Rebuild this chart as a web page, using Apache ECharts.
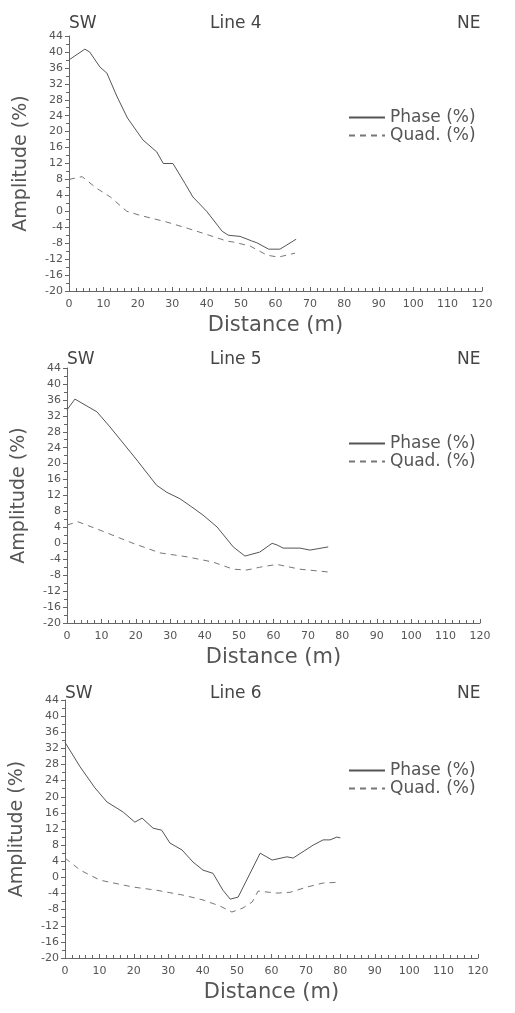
<!DOCTYPE html>
<html>
<head>
<meta charset="utf-8">
<title>Lines 4-6</title>
<script src="https://cdn.jsdelivr.net/npm/echarts@6/dist/echarts.min.js"></script>
<style>
  html, body { margin: 0; padding: 0; background: #fff; }
  #main { width: 515px; height: 1013px; }
</style>
</head>
<body>
<div id="main"></div>
<script>
// values (distance in m, amplitude in %)
var lineNames = ['Line 4', 'Line 5', 'Line 6'];
var yTicks = [-20, 44, 4];   // min, max, step
var xTicks = [0, 120, 10];

var l4PhaseDist = [0, 4.6, 6, 9, 11, 14, 17, 21.5, 25.5, 27.4, 30.2, 33.7, 36, 40, 44.5, 46.3, 49.7, 53, 54.6, 58, 61.3, 66];
var l4PhaseAmp  = [38, 40.7, 40, 36.2, 34.7, 28.7, 23.4, 17.9, 14.9, 12, 12, 7, 3.6, 0, -5, -6, -6.3, -7.4, -7.9, -9.5, -9.5, -7];
var l4QuadDist  = [0, 3.8, 8, 12, 16.8, 20.6, 28.4, 34.2, 40, 46, 47.7, 52.6, 57.5, 60.8, 65.7];
var l4QuadAmp   = [8, 8.7, 5.8, 3.6, 0, -1, -2.7, -4.2, -5.8, -7.5, -7.7, -8.7, -11, -11.5, -10.5];

var l5PhaseDist = [0, 2.3, 8.7, 12.5, 20.3, 26, 29, 32.8, 35.8, 39.5, 43.6, 48.3, 51.7, 56, 59.6, 61, 62.8, 67.7, 70.6, 75.9];
var l5PhaseAmp  = [33.5, 36.2, 33, 29.2, 20.9, 14.6, 12.8, 11.2, 9.4, 7.1, 4.1, -0.9, -3.2, -2.2, 0, -0.4, -1.2, -1.2, -1.7, -0.9];
var l5QuadDist  = [0, 3.2, 9.6, 19.2, 27, 34.9, 42.4, 48.3, 52.3, 56, 61, 67.7, 75.9];
var l5QuadAmp   = [4.6, 5.4, 3.3, 0, -2.4, -3.4, -4.7, -6.5, -6.7, -6, -5.3, -6.5, -7.2];

var l6PhaseDist = [0, 4.4, 8.7, 12.2, 16.9, 20.3, 22.4, 25.6, 28.1, 30.5, 34, 37.2, 40.1, 43, 45.9, 48, 50.3, 56.7, 60.2, 64.5, 66.3, 72.1, 75, 77, 79, 80];
var l6PhaseAmp  = [33.5, 27.4, 22.2, 18.7, 16.2, 13.7, 14.7, 12.2, 11.7, 8.5, 6.8, 3.8, 1.8, 1, -3.2, -5.4, -4.9, 6, 4.3, 5.1, 4.8, 8, 9.3, 9.3, 10, 9.8];
var l6QuadDist  = [0, 4.4, 10.2, 19.8, 26.7, 34.3, 40.1, 45, 48.5, 51.7, 54.4, 56.1, 61.6, 65.4, 70.3, 75, 80];
var l6QuadAmp   = [4.8, 1.8, -0.7, -2.4, -3.2, -4.4, -5.6, -7.1, -8.6, -7.6, -6.1, -3.4, -3.9, -3.7, -2.4, -1.4, -1.2];

function zip(xs, ys) {
    var out = [];
    for (var i = 0; i < xs.length; i++) out.push([xs[i], ys[i]]);
    return out;
}

var phaseData = [zip(l4PhaseDist, l4PhaseAmp), zip(l5PhaseDist, l5PhaseAmp), zip(l6PhaseDist, l6PhaseAmp)];
var quadData  = [zip(l4QuadDist, l4QuadAmp), zip(l5QuadDist, l5QuadAmp), zip(l6QuadDist, l6QuadAmp)];

var font = 'DejaVu Sans';
var ink = '#555';

// panel layout
var panels = [
    {top: 36,  height: 255, left: 69, title: 10,  legend: 104},
    {top: 368, height: 255, left: 67, title: 346, legend: 430},
    {top: 700, height: 258, left: 65, title: 680, legend: 757}
];

var myChart = echarts.init(document.getElementById('main'));

var grids = [], xAxes = [], yAxes = [], series = [], titles = [], legends = [];

panels.forEach(function (p, i) {
    grids.push({left: p.left, top: p.top, width: 413, height: p.height, containLabel: false});

    xAxes.push({
        type: 'value', gridIndex: i,
        min: xTicks[0], max: xTicks[1], interval: xTicks[2],
        name: 'Distance (m)', nameLocation: 'middle', nameGap: 24,
        nameTextStyle: {fontFamily: font, fontSize: 21, color: ink},
        axisLine: {onZero: false, lineStyle: {color: '#666', width: 1}},
        axisTick: {inside: true, length: 4, lineStyle: {color: '#666'}},
        minorTick: {show: true, splitNumber: 5, length: 3, lineStyle: {color: '#666'}},
        axisLabel: {fontFamily: font, fontSize: 11, color: ink, margin: 8},
        splitLine: {show: false}
    });

    yAxes.push({
        type: 'value', gridIndex: i,
        min: yTicks[0], max: yTicks[1], interval: yTicks[2],
        name: 'Amplitude (%)', nameLocation: 'middle', nameGap: 38, nameRotate: 90,
        nameTextStyle: {fontFamily: font, fontSize: 19, color: ink},
        axisLine: {show: true, onZero: false, lineStyle: {color: '#666', width: 1}},
        axisTick: {length: 4, lineStyle: {color: '#666'}},
        minorTick: {show: true, splitNumber: 2, length: 3, lineStyle: {color: '#666'}},
        axisLabel: {fontFamily: font, fontSize: 11, color: ink, margin: 6},
        splitLine: {show: false}
    });

    series.push({
        name: 'Phase (%)', type: 'line', xAxisIndex: i, yAxisIndex: i,
        data: phaseData[i], symbol: 'none', color: '#555',
        lineStyle: {color: '#555', width: 1, type: 'solid'}
    });
    series.push({
        name: 'Quad. (%)', type: 'line', xAxisIndex: i, yAxisIndex: i,
        data: quadData[i], symbol: 'none', color: '#777',
        lineStyle: {color: '#777', width: 1, type: [6, 5]}
    });

    var ts = {fontFamily: font, fontSize: 17, fontWeight: 'normal', color: '#444'};
    titles.push({text: 'SW', left: p.left - 5, top: p.title, textStyle: ts});
    titles.push({text: lineNames[i], left: 205, top: p.title, textStyle: ts});
    titles.push({text: 'NE', left: 452, top: p.title, textStyle: ts});

    legends.push({
        data: ['Phase (%)', 'Quad. (%)'],
        orient: 'vertical', left: 343, top: p.legend,
        itemWidth: 36, itemHeight: 10, itemGap: 1,
        selectedMode: false,
        itemStyle: {opacity: 0},
        textStyle: {fontFamily: font, fontSize: 17, color: ink}
    });
});

option = {
    backgroundColor: '#fff',
    animation: false,
    title: titles,
    legend: legends,
    grid: grids,
    xAxis: xAxes,
    yAxis: yAxes,
    series: series
};

myChart.setOption(option);
</script>
</body>
</html>
